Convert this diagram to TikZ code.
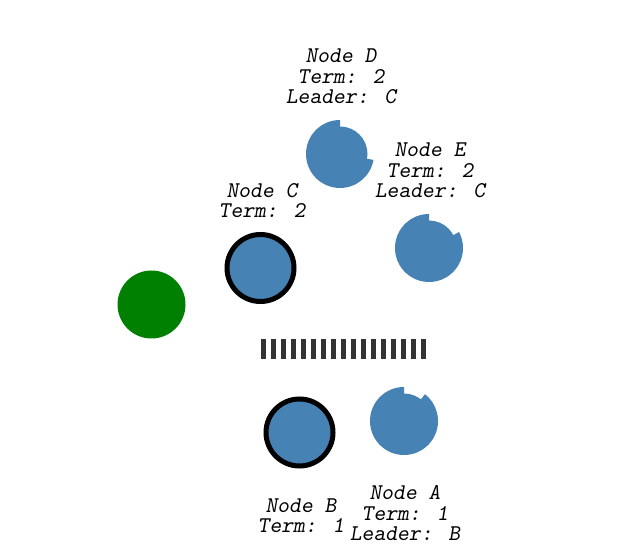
\documentclass[tikz,border=0pt]{standalone}
\usepackage{fontspec}
\definecolor{steelblue}{HTML}{4682B4}
\definecolor{clientgreen}{HTML}{008000}
\definecolor{wallgray}{HTML}{333333}
\tikzset{
    server/.style={circle, fill=steelblue, inner sep=0pt, outer sep=0pt, minimum size=55pt},
    leader/.style={circle, fill=steelblue, draw=black, line width=5pt, inner sep=0pt, outer sep=0pt, minimum size=67pt},
    client/.style={circle, fill=clientgreen, inner sep=0pt, outer sep=0pt, minimum size=68pt},
    lbl/.style={align=center, inner sep=0pt, anchor=south, font=\ttfamily\slshape\fontsize{22.5}{20.5}\selectfont}
}
\begin{document}
\begin{tikzpicture}[x=1pt, y=1pt]
    \useasboundingbox (0,0) rectangle (626,559);
    % Timer sectors
    \foreach \x/\y/\a in {340/405/-10, 429/311/28, 404/138/52}
    {
    \fill[steelblue] (\x,\y) -- ++(90:34) arc[start angle=90, end angle=360+\a, radius=34] -- cycle;
    }
    % Servers
    \node[server] (D) at (340,405) {};
    \node[server] (E) at (429,311) {};
    \node[server] (A) at (404,138) {};
    \node[leader] (C) at (260.5,291) {};
    \node[leader] (B) at (299.5,126.5) {};
    \node[client] (client) at (151.5,254.5) {};
    % Partition
    \foreach \i in {0,...,16}
    {
    \fill[wallgray] (261+10*\i,200) rectangle ++(5,20);
    }
    % Labels
    \node[lbl] (labD) at (341,455) {Node D\\Term: 2\\Leader: C};
    \node[lbl] (labE) at (430,361) {Node E\\Term: 2\\Leader: C};
    \node[lbl] (labC) at (262,341) {Node C\\Term: 2};
    \node[lbl] (labB) at (301,26) {Node B\\Term: 1};
    \node[lbl] (labA) at (405,18) {Node A\\Term: 1\\Leader: B};
\end{tikzpicture}
\end{document}
